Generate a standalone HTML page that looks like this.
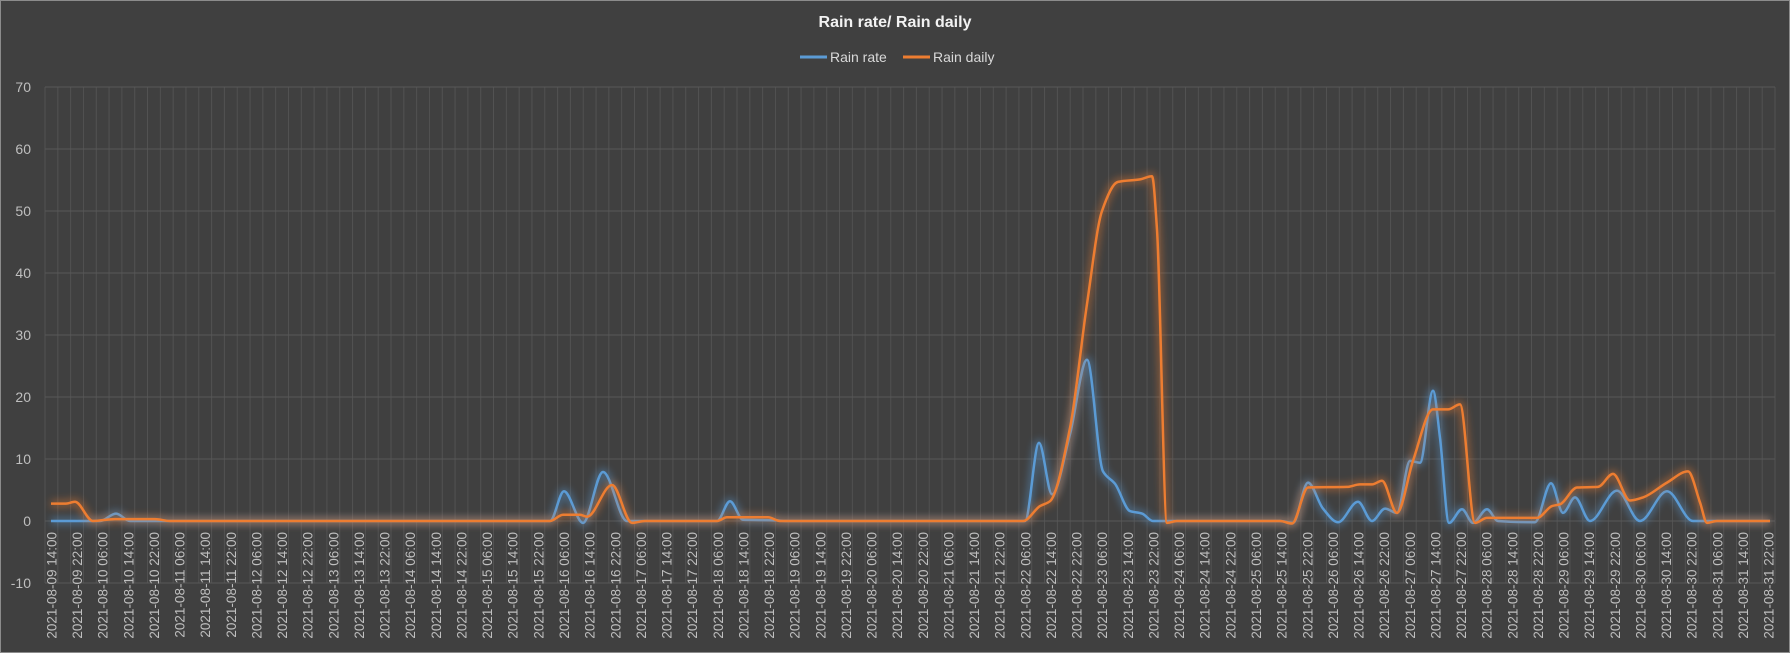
<!DOCTYPE html>
<html><head><meta charset="utf-8"><style>
html,body{margin:0;padding:0;background:#404040;}
svg{display:block;font-family:"Liberation Sans",sans-serif;}
</style></head><body>
<svg id="s" width="1790" height="653" viewBox="0 0 1790 653" xmlns="http://www.w3.org/2000/svg">
<defs>
<filter id="gb" x="-10%" y="-50%" width="120%" height="200%"><feGaussianBlur stdDeviation="4"/></filter>
</defs>
<rect x="0.5" y="0.5" width="1789" height="652" fill="#404040" stroke="#8c8c8c"/>
<text x="895" y="27" text-anchor="middle" fill="#f2f2f2" font-size="16" font-weight="bold">Rain rate/ Rain daily</text>
<line x1="800" y1="57" x2="827" y2="57" stroke="#5b9bd5" stroke-width="3"/>
<text x="830" y="62" fill="#d9d9d9" font-size="14">Rain rate</text>
<line x1="903" y1="57" x2="930" y2="57" stroke="#ed7d31" stroke-width="3"/>
<text x="933" y="62" fill="#d9d9d9" font-size="14">Rain daily</text>
<g id="grid"></g>
<g id="lab"></g>
<g id="series"></g>
</svg>
<script>
var ns="http://www.w3.org/2000/svg";
function el(t,a,p,txt){var e=document.createElementNS(ns,t);for(var k in a)e.setAttribute(k,a[k]);if(txt!==undefined)e.textContent=txt;p.appendChild(e);return e;}
var g=document.getElementById('grid'),lab=document.getElementById('lab'),ser=document.getElementById('series');
var L=45,R=1775,cw=(R-L)/135;
function Y(v){return 521-6.2*v;}
for(var k=0;k<=135;k++){var x=L+cw*k;el('line',{x1:x,y1:87,x2:x,y2:583,stroke:'#525252','stroke-width':1},g);}
for(var v=-10;v<=70;v+=10){el('line',{x1:L,y1:Y(v),x2:R,y2:Y(v),stroke:'#585858','stroke-width':1},g);
el('text',{x:31,y:Y(v)+5,'text-anchor':'end',fill:'#bfbfbf','font-size':14},lab,String(v));}
var d=new Date(Date.UTC(2021,7,9,14));
for(var i=0;i<68;i++){var t=new Date(d.getTime()+i*8*3600e3);
var s=t.getUTCFullYear()+'-'+('0'+(t.getUTCMonth()+1)).slice(-2)+'-'+('0'+t.getUTCDate()).slice(-2)+' '+('0'+t.getUTCHours()).slice(-2)+':00';
var x=L+cw*(2*i+0.5)+5;
el('text',{x:0,y:0,transform:'translate('+x+',532) rotate(-90)','text-anchor':'end',fill:'#bfbfbf','font-size':13.5},lab,s);}
function path(p){
var n=p.length,del=[],m=[];
for(var i=0;i<n-1;i++)del.push((p[i+1][1]-p[i][1])/(p[i+1][0]-p[i][0]));
m[0]=0;m[n-1]=0;
for(var i=1;i<n-1;i++){var a=del[i-1],b=del[i];
if(a*b<=0)m[i]=0;else{var h0=p[i][0]-p[i-1][0],h1=p[i+1][0]-p[i][0];var w1=2*h1+h0,w2=h1+2*h0;m[i]=(w1+w2)/(w1/a+w2/b);}}
var d='M'+p[0][0]+','+Y(p[0][1]).toFixed(1);
for(var i=0;i<n-1;i++){var dx=p[i+1][0]-p[i][0];
var x1=p[i][0]+dx/3,v1=p[i][1]+m[i]*dx/3,x2=p[i+1][0]-dx/3,v2=p[i+1][1]-m[i+1]*dx/3;
d+=' C'+x1.toFixed(1)+','+Y(v1).toFixed(1)+' '+x2.toFixed(1)+','+Y(v2).toFixed(1)+' '+p[i+1][0]+','+Y(p[i+1][1]).toFixed(1);}
return d;}
var blue=[[51,0],[100,0],[116,1.2],[130,0],[550,0],[564,4.8],[583,-0.3],[603,7.9],[627,0],[717,0],[730,3.2],[743,0.2],[777,0.1],[785,0],[1025,0],[1039,12.6],[1052,4.3],[1070,14],[1087,26],[1103,8],[1115,6],[1130,1.6],[1142,1.2],[1153,0],[1280,0],[1293,-0.3],[1308,6.2],[1323,2],[1338,-0.2],[1358,3.1],[1372,0],[1385,2],[1397,1.3],[1410,9.7],[1420,9.4],[1433,21],[1440,13.4],[1449,-0.3],[1462,1.9],[1473,-0.3],[1487,1.9],[1498,0],[1535,-0.2],[1551,6.1],[1563,1.3],[1575,3.8],[1590,0],[1617,4.9],[1640,0],[1667,4.8],[1693,0],[1717,0],[1770,0]];
var orange=[[51,2.8],[66,2.8],[75,3.1],[93,0],[115,0.3],[155,0.3],[170,0],[550,0],[563,1],[580,1],[587,0.7],[612,5.8],[632,-0.3],[645,0],[717,0],[727,0.6],[768,0.6],[780,0],[1023,0],[1040,2.4],[1050,3.2],[1070,15],[1087,35],[1102,50],[1118,54.7],[1140,55.1],[1152,55.6],[1157,47],[1167,-0.3],[1177,0],[1280,0],[1292,-0.4],[1308,5.4],[1347,5.5],[1360,5.9],[1372,5.9],[1382,6.5],[1397,1.3],[1413,9.7],[1433,18],[1448,18],[1460,18.8],[1475,-0.3],[1487,0.5],[1537,0.5],[1552,2.4],[1560,2.7],[1577,5.4],[1598,5.5],[1613,7.6],[1630,3.3],[1643,3.8],[1667,6.2],[1688,8],[1700,3],[1707,-0.3],[1717,0],[1770,0]];
[[blue,'#5b9bd5'],[orange,'#ed7d31']].forEach(function(a){var d=path(a[0]);
el('path',{d:d,fill:'none',stroke:a[1],'stroke-width':7,opacity:0.45,filter:'url(#gb)'},ser);
el('path',{d:d,fill:'none',stroke:a[1],'stroke-width':2.5,'stroke-linejoin':'round'},ser);});
</script>
</body></html>
